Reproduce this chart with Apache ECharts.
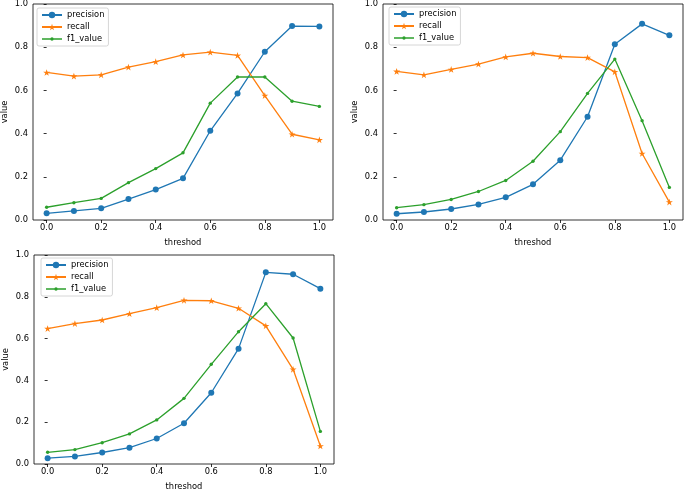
<!DOCTYPE html>
<html>
<head>
<meta charset="utf-8">
<script src="https://cdn.jsdelivr.net/npm/echarts@6/dist/echarts.min.js"></script>
<style>html,body{margin:0;padding:0;background:#fff}#c{width:685px;height:492px}</style>
</head>
<body>
<div id="c"></div>
<script>
const thresholds = [0.0, 0.1, 0.2, 0.3, 0.4, 0.5, 0.6, 0.7, 0.8, 0.9, 1.0];
const xTickValues = [0.0, 0.2, 0.4, 0.6, 0.8, 1.0];
const seriesNames = ['precision', 'recall', 'f1_value'];

// Panel 1 (top-left)
const precision1 = [0.031, 0.042, 0.054, 0.097, 0.141, 0.193, 0.413, 0.586, 0.779, 0.898, 0.896];
const recall1    = [0.683, 0.666, 0.672, 0.708, 0.733, 0.764, 0.777, 0.762, 0.576, 0.397, 0.371];
const f1_1       = [0.059, 0.080, 0.100, 0.173, 0.238, 0.311, 0.541, 0.662, 0.662, 0.550, 0.526];
// Panel 2 (top-right)
const precision2 = [0.029, 0.037, 0.051, 0.072, 0.105, 0.165, 0.277, 0.478, 0.814, 0.908, 0.855];
const recall2    = [0.688, 0.672, 0.697, 0.722, 0.755, 0.772, 0.757, 0.752, 0.686, 0.308, 0.083];
const f1_2       = [0.057, 0.071, 0.095, 0.132, 0.183, 0.272, 0.409, 0.586, 0.745, 0.460, 0.151];
// Panel 3 (bottom-left)
const precision3 = [0.028, 0.036, 0.055, 0.078, 0.122, 0.195, 0.341, 0.552, 0.917, 0.908, 0.839];
const recall3    = [0.648, 0.672, 0.689, 0.719, 0.748, 0.783, 0.781, 0.745, 0.661, 0.453, 0.086];
const f1_3       = [0.056, 0.069, 0.102, 0.144, 0.211, 0.314, 0.477, 0.633, 0.767, 0.603, 0.156];

const panels = [
  {p: precision1, r: recall1, f: f1_1, grid: {left: 32, top: 4, width: 301, height: 216}, legend: {left: 37, top: 8}},
  {p: precision2, r: recall2, f: f1_2, grid: {left: 383, top: 3.5, width: 300, height: 216.5}, legend: {left: 389, top: 7}},
  {p: precision3, r: recall3, f: f1_3, grid: {left: 34, top: 255, width: 300, height: 213}, legend: {left: 41, top: 258}}
];

const colors = ['#1f77b4', '#ff7f0e', '#2ca02c'];
const FONT = 'DejaVu Sans';
const FS = 8.3;
const star = 'path://M50 0 L61.17 34.63 L97.55 34.55 L68.07 55.87 L79.39 90.45 L50 69 L20.61 90.45 L31.93 55.87 L2.45 34.55 L38.83 34.63 Z';
const symbols = ['circle', star, 'circle'];
const symbolSizes = [6, 7, 3.4];
const dotLegendIcon = 'path://M0 3.35 L20 3.35 L20 4.65 L0 4.65 Z M8.3 4 A1.7 1.7 0 1 1 11.7 4 A1.7 1.7 0 1 1 8.3 4 Z';

const grids = [], xAxes = [], yAxes = [], series = [], legends = [];
panels.forEach((pn, i) => {
  grids.push(Object.assign({show: true, borderColor: '#000', borderWidth: 0.8, backgroundColor: 'transparent'}, pn.grid));
  xAxes.push({
    type: 'value', gridIndex: i, min: -0.05, max: 1.05,
    name: 'threshod', nameLocation: 'middle', nameGap: 19,
    nameTextStyle: {fontFamily: FONT, fontSize: FS, color: '#000'},
    axisLine: {show: false},
    splitLine: {show: false},
    axisTick: {show: true, length: 3, lineStyle: {color: '#000', width: 0.8}, customValues: xTickValues},
    axisLabel: {fontFamily: FONT, fontSize: FS, color: '#000', margin: 4, customValues: xTickValues,
      formatter: v => v.toFixed(1)}
  });
  yAxes.push({
    type: 'value', gridIndex: i, min: 0, max: 1.0, interval: 0.2,
    name: 'value', nameLocation: 'middle', nameGap: 24, nameRotate: 90,
    nameTextStyle: {fontFamily: FONT, fontSize: FS, color: '#000'},
    axisLine: {show: false},
    splitLine: {show: false},
    axisTick: {show: true, length: 3, lineStyle: {color: '#000', width: 0.8}},
    axisLabel: {fontFamily: FONT, fontSize: FS, color: '#000', margin: 5, formatter: v => v.toFixed(1)}
  });
  [pn.p, pn.r, pn.f].forEach((arr, k) => {
    series.push({
      type: 'line', name: seriesNames[k], xAxisIndex: i, yAxisIndex: i,
      data: thresholds.map((t, j) => [t, arr[j]]),
      symbol: symbols[k], symbolSize: symbolSizes[k], symbolKeepAspect: true,
      showAllSymbol: true,
      lineStyle: {color: colors[k], width: 1.3},
      itemStyle: {color: colors[k], borderWidth: 0},
      emphasis: {disabled: true},
      z: 2 + k
    });
  });
  legends.push({
    data: [{name: seriesNames[0]}, {name: seriesNames[1]}, {name: seriesNames[2], icon: dotLegendIcon}],
    orient: 'vertical', left: pn.legend.left, top: pn.legend.top,
    padding: [3, 4], itemGap: 4, itemWidth: 20, itemHeight: 8,
    backgroundColor: 'rgba(255,255,255,0.8)', borderColor: '#ccc', borderWidth: 0.8, borderRadius: 2,
    textStyle: {fontFamily: FONT, fontSize: FS, color: '#000'},
    selectedMode: false
  });
});

const chart = echarts.init(document.getElementById('c'), null, {renderer: 'canvas'});
chart.setOption({
  animation: false,
  color: colors,
  grid: grids, xAxis: xAxes, yAxis: yAxes, series: series, legend: legends
});
</script>
</body>
</html>
